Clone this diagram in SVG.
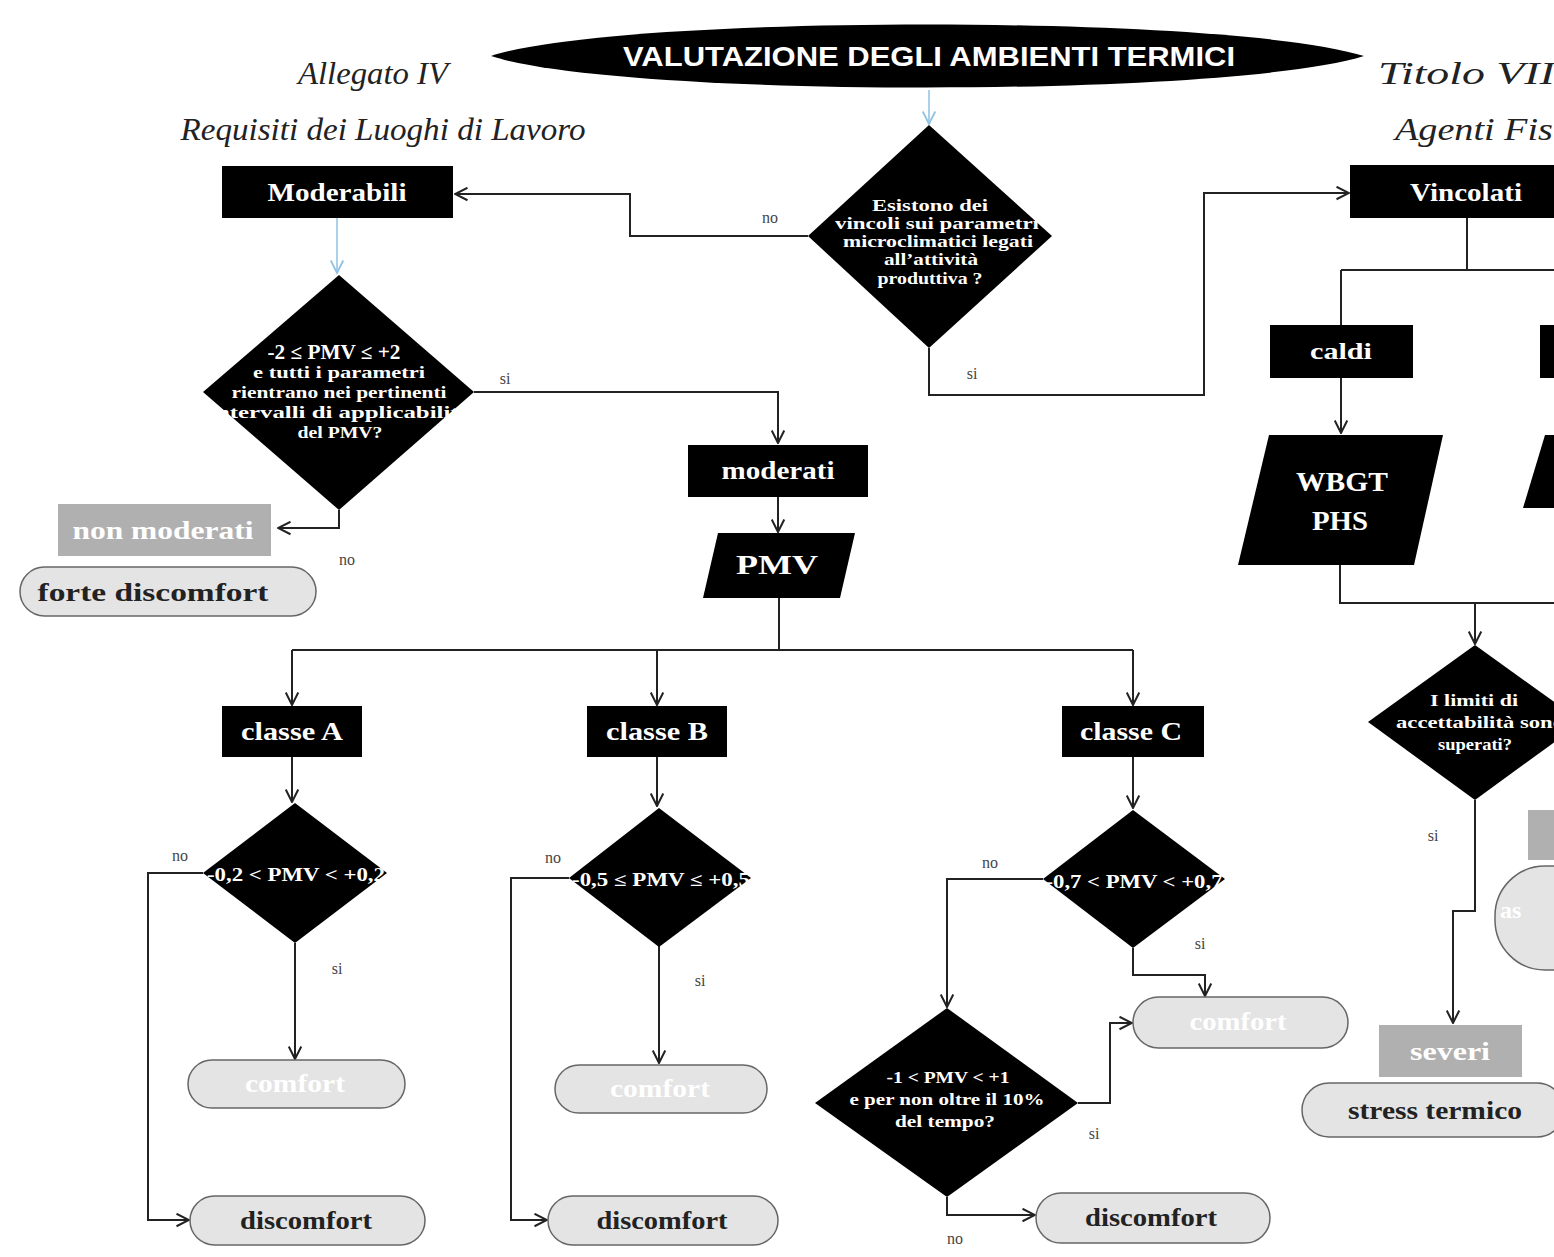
<svg xmlns="http://www.w3.org/2000/svg" width="1554" height="1257" viewBox="0 0 1554 1257">
<defs>
<marker id="arr" viewBox="0 0 12 12" refX="11" refY="6" markerWidth="15" markerHeight="15" orient="auto" markerUnits="userSpaceOnUse"><path d="M1,1 L11,6 L1,11" fill="none" stroke="#222" stroke-width="1.6"/></marker>
<marker id="arrb" viewBox="0 0 12 12" refX="11" refY="6" markerWidth="15" markerHeight="15" orient="auto" markerUnits="userSpaceOnUse"><path d="M1,1 L11,6 L1,11" fill="none" stroke="#8fc1e3" stroke-width="1.4"/></marker>
<style>
.blk{fill:#000}
.gry{fill:#b0b0b0}
.pill{fill:#e4e4e4;stroke:#666;stroke-width:1.5}
.c{stroke:#222;stroke-width:2;fill:none}
.cb{stroke:#8fc1e3;stroke-width:1.5;fill:none}
.wt{font-family:"Liberation Serif",serif;font-weight:bold;fill:#fff;text-anchor:middle;dominant-baseline:central}
.dt{font-family:"Liberation Serif",serif;font-weight:bold;fill:#222;text-anchor:middle;dominant-baseline:central}
.lb{font-family:"Liberation Serif",serif;font-size:16px;fill:#444;text-anchor:middle;dominant-baseline:central}
.hw{font-family:"Liberation Serif",serif;font-style:italic;font-size:32px;fill:#222}
</style>
</defs>
<rect width="1554" height="1257" fill="#fff"/>

<g id="connectors">
<path class="cb" d="M929,90 V124" marker-end="url(#arrb)"/>
<path class="cb" d="M337,218 V273" marker-end="url(#arrb)"/>
<path class="c" d="M808,236 H630 V194 H455" marker-end="url(#arr)"/>
<path class="c" d="M929,348 V395 H1204 V193 H1349" marker-end="url(#arr)"/>
<path class="c" d="M1467,218 V270 M1341,270 H1560 M1341,270 V325"/>
<path class="c" d="M1341,378 V433" marker-end="url(#arr)"/>
<path class="c" d="M1340,565 V603 H1560"/>
<path class="c" d="M1475,603 V644" marker-end="url(#arr)"/>
<path class="c" d="M1475,800 V911 H1453 V1023" marker-end="url(#arr)"/>
<path class="c" d="M474,392 H778 V443" marker-end="url(#arr)"/>
<path class="c" d="M339,510 V528 H278" marker-end="url(#arr)"/>
<path class="c" d="M778,497 V532" marker-end="url(#arr)"/>
<path class="c" d="M779,598 V650 M292,650 H1133"/>
<path class="c" d="M292,650 V705" marker-end="url(#arr)"/>
<path class="c" d="M657,650 V705" marker-end="url(#arr)"/>
<path class="c" d="M1133,650 V705" marker-end="url(#arr)"/>
<path class="c" d="M292,757 V802" marker-end="url(#arr)"/>
<path class="c" d="M657,757 V806" marker-end="url(#arr)"/>
<path class="c" d="M1133,757 V808" marker-end="url(#arr)"/>
<path class="c" d="M203,873 H148 V1220 H189" marker-end="url(#arr)"/>
<path class="c" d="M295,943 V1059" marker-end="url(#arr)"/>
<path class="c" d="M569,878 H511 V1220 H547" marker-end="url(#arr)"/>
<path class="c" d="M659,946 V1063" marker-end="url(#arr)"/>
<path class="c" d="M1043,879 H947 V1007" marker-end="url(#arr)"/>
<path class="c" d="M1133,948 V975 H1205 V996" marker-end="url(#arr)"/>
<path class="c" d="M1078,1103 H1110 V1023 H1132" marker-end="url(#arr)"/>
<path class="c" d="M947,1197 V1215 H1035" marker-end="url(#arr)"/>
</g>

<g id="labels">
<text class="lb" x="770" y="217">no</text>
<text class="lb" x="972" y="373">si</text>
<text class="lb" x="505" y="378">si</text>
<text class="lb" x="347" y="559">no</text>
<text class="lb" x="180" y="855">no</text>
<text class="lb" x="337" y="968">si</text>
<text class="lb" x="553" y="857">no</text>
<text class="lb" x="700" y="980">si</text>
<text class="lb" x="990" y="862">no</text>
<text class="lb" x="1200" y="943">si</text>
<text class="lb" x="1094" y="1133">si</text>
<text class="lb" x="955" y="1238">no</text>
<text class="lb" x="1433" y="835">si</text>
</g>

<g id="title">
<path class="blk" d="M491,56 C620,14 1230,14 1364,56 C1230,98 620,98 491,56 Z"/>
<text x="929" y="56" font-family="'Liberation Sans',sans-serif" font-weight="bold" font-size="28" fill="#fff" text-anchor="middle" dominant-baseline="central" textLength="612" lengthAdjust="spacingAndGlyphs">VALUTAZIONE  DEGLI AMBIENTI TERMICI</text>
</g>

<g id="heading-left">
<text class="hw" x="373" y="84" text-anchor="middle" textLength="150" lengthAdjust="spacingAndGlyphs">Allegato IV</text>
<text class="hw" x="383" y="140" text-anchor="middle" textLength="405" lengthAdjust="spacingAndGlyphs">Requisiti dei Luoghi di Lavoro</text>
</g>
<g id="heading-right">
<text class="hw" x="1378" y="84" textLength="192" lengthAdjust="spacingAndGlyphs">Titolo VIII</text>
<text class="hw" x="1395" y="140" textLength="196" lengthAdjust="spacingAndGlyphs">Agenti Fisici</text>
</g>

<g id="q-vincoli">
<polygon class="blk" points="929,125 1052,236 929,348 808,236"/>
<text class="wt" x="930" y="205" font-size="17" textLength="116" lengthAdjust="spacingAndGlyphs">Esistono dei</text>
<text class="wt" x="937" y="223" font-size="17" textLength="204" lengthAdjust="spacingAndGlyphs">vincoli sui parametri</text>
<text class="wt" x="938" y="241" font-size="17" textLength="190" lengthAdjust="spacingAndGlyphs">microclimatici legati</text>
<text class="wt" x="931" y="259" font-size="17" textLength="94" lengthAdjust="spacingAndGlyphs">all’attività</text>
<text class="wt" x="930" y="278" font-size="17" textLength="105" lengthAdjust="spacingAndGlyphs">produttiva ?</text>
</g>

<g id="moderabili">
<rect class="blk" x="222" y="166" width="231" height="52"/>
<text class="wt" x="337" y="192" font-size="26" textLength="139" lengthAdjust="spacingAndGlyphs">Moderabili</text>
</g>

<g id="vincolati">
<rect class="blk" x="1350" y="165" width="240" height="53"/>
<text class="wt" x="1466" y="192" font-size="26" textLength="112" lengthAdjust="spacingAndGlyphs">Vincolati</text>
</g>

<g id="caldi">
<rect class="blk" x="1270" y="325" width="143" height="53"/>
<text class="wt" x="1341" y="351" font-size="24" textLength="62" lengthAdjust="spacingAndGlyphs">caldi</text>
</g>
<g id="freddi">
<rect class="blk" x="1540" y="325" width="40" height="53"/>
</g>

<g id="wbgt">
<polygon class="blk" points="1269,435 1443,435 1414,565 1238,565"/>
<text class="wt" x="1342" y="482" font-size="27" textLength="92" lengthAdjust="spacingAndGlyphs">WBGT</text>
<text class="wt" x="1340" y="521" font-size="27" textLength="56" lengthAdjust="spacingAndGlyphs">PHS</text>
</g>
<g id="param-right">
<polygon class="blk" points="1545,435 1600,435 1580,508 1523,508"/>
</g>

<g id="q-limiti">
<polygon class="blk" points="1475,645 1582,722 1475,800 1368,722"/>
<text class="wt" x="1474" y="700" font-size="16" textLength="88" lengthAdjust="spacingAndGlyphs">I limiti di</text>
<text class="wt" x="1480" y="722" font-size="16" textLength="168" lengthAdjust="spacingAndGlyphs">accettabilità sono</text>
<text class="wt" x="1475" y="744" font-size="16" textLength="74" lengthAdjust="spacingAndGlyphs">superati?</text>
</g>

<g id="box-right">
<rect class="gry" x="1528" y="810" width="40" height="50"/>
</g>
<g id="pill-right">
<rect class="pill" x="1495" y="866" width="130" height="104" rx="50"/>
<text class="wt" x="1500" y="910" font-size="24" style="text-anchor:start">as</text>
</g>

<g id="severi">
<rect class="gry" x="1379" y="1025" width="143" height="52"/>
<text class="wt" x="1450" y="1051" font-size="25" textLength="80" lengthAdjust="spacingAndGlyphs">severi</text>
</g>
<g id="stress">
<rect class="pill" x="1302" y="1083" width="262" height="54" rx="27"/>
<text class="dt" x="1435" y="1110" font-size="25" textLength="174" lengthAdjust="spacingAndGlyphs">stress termico</text>
</g>

<g id="q-pmv2">
<polygon class="blk" points="339,275 474,392 339,510 203,392"/>
<text class="wt" x="334" y="352" font-size="20" textLength="133" lengthAdjust="spacingAndGlyphs">-2 ≤ PMV ≤ +2</text>
<text class="wt" x="339" y="372" font-size="17" textLength="172" lengthAdjust="spacingAndGlyphs">e tutti i parametri</text>
<text class="wt" x="339" y="392" font-size="17" textLength="215" lengthAdjust="spacingAndGlyphs">rientrano nei pertinenti</text>
<text class="wt" x="340" y="412" font-size="17" textLength="262" lengthAdjust="spacingAndGlyphs">intervalli di applicabilità</text>
<text class="wt" x="340" y="432" font-size="17" textLength="85" lengthAdjust="spacingAndGlyphs">del PMV?</text>
</g>

<g id="non-moderati">
<rect class="gry" x="58" y="504" width="213" height="52"/>
<text class="wt" x="163" y="530" font-size="26" textLength="181" lengthAdjust="spacingAndGlyphs">non moderati</text>
</g>
<g id="forte-discomfort">
<rect class="pill" x="20" y="567" width="296" height="49" rx="24.5"/>
<text class="dt" x="153" y="592" font-size="26" textLength="231" lengthAdjust="spacingAndGlyphs">forte discomfort</text>
</g>

<g id="moderati">
<rect class="blk" x="688" y="445" width="180" height="52"/>
<text class="wt" x="778" y="470" font-size="26" textLength="113" lengthAdjust="spacingAndGlyphs">moderati</text>
</g>

<g id="pmv">
<polygon class="blk" points="718,533 855,533 840,598 703,598"/>
<text class="wt" x="777" y="565" font-size="27" textLength="82" lengthAdjust="spacingAndGlyphs">PMV</text>
</g>

<g id="classe-a">
<rect class="blk" x="222" y="706" width="140" height="51"/>
<text class="wt" x="292" y="731" font-size="25" textLength="102" lengthAdjust="spacingAndGlyphs">classe A</text>
</g>
<g id="classe-b">
<rect class="blk" x="587" y="706" width="140" height="51"/>
<text class="wt" x="657" y="731" font-size="25" textLength="102" lengthAdjust="spacingAndGlyphs">classe B</text>
</g>
<g id="classe-c">
<rect class="blk" x="1062" y="706" width="142" height="51"/>
<text class="wt" x="1131" y="731" font-size="25" textLength="102" lengthAdjust="spacingAndGlyphs">classe C</text>
</g>

<g id="q-a">
<polygon class="blk" points="295,803 387,873 295,943 203,873"/>
<text class="wt" x="296" y="875" font-size="18" textLength="178" lengthAdjust="spacingAndGlyphs">-0,2 &lt; PMV &lt; +0,2</text>
</g>
<g id="q-b">
<polygon class="blk" points="659,808 751,878 659,947 569,878"/>
<text class="wt" x="661" y="880" font-size="18" textLength="178" lengthAdjust="spacingAndGlyphs">-0,5 ≤ PMV ≤ +0,5</text>
</g>
<g id="q-c">
<polygon class="blk" points="1133,810 1225,879 1133,948 1043,879"/>
<text class="wt" x="1134" y="882" font-size="18" textLength="177" lengthAdjust="spacingAndGlyphs">-0,7 &lt; PMV &lt; +0,7</text>
</g>
<g id="q-d">
<polygon class="blk" points="947,1008 1078,1103 947,1197 815,1103"/>
<text class="wt" x="948" y="1077" font-size="17" textLength="123" lengthAdjust="spacingAndGlyphs">-1 &lt; PMV &lt; +1</text>
<text class="wt" x="947" y="1099" font-size="17" textLength="195" lengthAdjust="spacingAndGlyphs">e per non oltre il 10%</text>
<text class="wt" x="945" y="1121" font-size="17" textLength="100" lengthAdjust="spacingAndGlyphs">del tempo?</text>
</g>

<g id="comfort-a">
<rect class="pill" x="188" y="1060" width="217" height="48" rx="24"/>
<text class="wt" x="295" y="1083" font-size="25" textLength="100" lengthAdjust="spacingAndGlyphs">comfort</text>
</g>
<g id="comfort-b">
<rect class="pill" x="555" y="1065" width="212" height="48" rx="24"/>
<text class="wt" x="660" y="1088" font-size="25" textLength="100" lengthAdjust="spacingAndGlyphs">comfort</text>
</g>
<g id="comfort-c">
<rect class="pill" x="1133" y="997" width="215" height="51" rx="25.5"/>
<text class="wt" x="1238" y="1021" font-size="25" textLength="97" lengthAdjust="spacingAndGlyphs">comfort</text>
</g>
<g id="discomfort-a">
<rect class="pill" x="190" y="1196" width="235" height="49" rx="24.5"/>
<text class="dt" x="306" y="1220" font-size="25" textLength="132" lengthAdjust="spacingAndGlyphs">discomfort</text>
</g>
<g id="discomfort-b">
<rect class="pill" x="548" y="1196" width="230" height="49" rx="24.5"/>
<text class="dt" x="662" y="1220" font-size="25" textLength="131" lengthAdjust="spacingAndGlyphs">discomfort</text>
</g>
<g id="discomfort-c">
<rect class="pill" x="1036" y="1193" width="234" height="50" rx="25"/>
<text class="dt" x="1151" y="1217" font-size="25" textLength="132" lengthAdjust="spacingAndGlyphs">discomfort</text>
</g>
</svg>
